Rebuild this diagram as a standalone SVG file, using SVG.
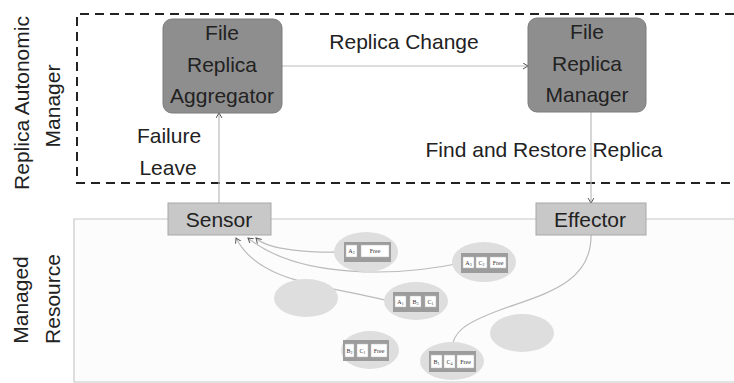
<svg xmlns="http://www.w3.org/2000/svg" width="734" height="383" viewBox="0 0 734 383">
<defs>
<marker id="arr" markerWidth="8" markerHeight="8" refX="5" refY="3" orient="auto" markerUnits="userSpaceOnUse">
<path d="M0,0 L5,3 L0,6" fill="none" stroke="#555" stroke-width="1"/>
</marker>
<style>
text{font-family:"Liberation Sans",Arial,sans-serif;fill:#222}
.lbl{font-size:21px;text-anchor:middle}
.main rect{fill:#8e8e8e;stroke:#7c7c7c;stroke-width:1}
.io rect{fill:#c8c8c8;stroke:#a8a8a8;stroke-width:1}
.conn path{fill:none;stroke:#bbb;stroke-width:1.2;marker-end:url(#arr)}
.ell{fill:#dedede}
.bar{fill:#9c9c9c}
.cell{fill:#fff;stroke:#bbb;stroke-width:0.5}
.ct{font-family:"Liberation Serif","Times New Roman",serif;font-size:6px;text-anchor:middle;fill:#333}
.sub{font-size:4px}
</style>
</defs>
<rect width="734" height="383" fill="#fff"/>

<g id="managed-resource">
<path d="M734,219 H74 V382 H734" fill="#fcfcfc" stroke="#c8c8c8" stroke-width="1.2"/>
</g>
<g id="autonomic-manager">
<path d="M734,14 H77 V183 H734" fill="none" stroke="#222" stroke-width="2" stroke-dasharray="9,6"/>
</g>

<g id="side-labels">
<text class="lbl" transform="translate(29,103) rotate(-90)">Replica Autonomic</text>
<text class="lbl" transform="translate(60,106) rotate(-90)">Manager</text>
<text class="lbl" transform="translate(28,300) rotate(-90)">Managed</text>
<text class="lbl" transform="translate(60,299) rotate(-90)">Resource</text>
</g>

<g id="connectors" class="conn">
<path d="M282,66 H528"/>
<path d="M219,203 V113"/>
<path d="M591,112 V203"/>
<path d="M344,252 C310,253 268,250 256,238"/>
<path d="M461,263 C400,276 300,280 248,238"/>
<path d="M393,302 C330,285 260,285 236,238"/>
<path d="M591,235 C592,285 540,295 500,310 C465,323 452,332 452,350"/>
</g>

<g id="edge-labels">
<text class="lbl" x="404" y="49">Replica Change</text>
<text class="lbl" x="169" y="143">Failure</text>
<text class="lbl" x="168" y="175">Leave</text>
<text class="lbl" x="544" y="157">Find and Restore Replica</text>
</g>

<g id="aggregator" class="main">
<rect x="163" y="19" width="119" height="94" rx="9"/>
<text class="lbl" x="222" y="40">File</text>
<text class="lbl" x="222" y="72">Replica</text>
<text class="lbl" x="222" y="103">Aggregator</text>
</g>

<g id="replica-manager" class="main">
<rect x="528" y="18" width="118" height="94" rx="9"/>
<text class="lbl" x="587" y="39">File</text>
<text class="lbl" x="587" y="71">Replica</text>
<text class="lbl" x="587" y="102">Manager</text>
</g>

<g id="sensor" class="io">
<rect x="168" y="203" width="103" height="32"/>
<text class="lbl" x="219" y="227">Sensor</text>
</g>

<g id="effector" class="io">
<rect x="536" y="203" width="110" height="32"/>
<text class="lbl" x="590" y="227">Effector</text>
</g>

<g id="node-a2">
<ellipse class="ell" cx="366" cy="252" rx="32" ry="20"/>
<rect class="bar" x="344" y="242" width="47" height="20"/>
<rect class="cell" x="346" y="245" width="11" height="12"/>
<rect class="cell" x="361" y="245" width="28" height="12"/>
<text class="ct" x="351.5" y="253">A<tspan class="sub" dy="1">2</tspan></text>
<text class="ct" x="375" y="253">Free</text>
</g>

<g id="node-a3">
<ellipse class="ell" cx="484" cy="262" rx="32" ry="20"/>
<rect class="bar" x="461" y="253" width="47" height="20"/>
<rect class="cell" x="463" y="257" width="11" height="11"/>
<rect class="cell" x="476" y="257" width="11" height="11"/>
<rect class="cell" x="490" y="257" width="16" height="11"/>
<text class="ct" x="468.5" y="264.5">A<tspan class="sub" dy="1">3</tspan></text>
<text class="ct" x="481.5" y="264.5">C<tspan class="sub" dy="1">2</tspan></text>
<text class="ct" x="498" y="264.5">Free</text>
</g>

<g id="node-a1">
<ellipse class="ell" cx="416" cy="301" rx="32" ry="19"/>
<rect class="bar" x="393" y="292" width="46" height="20"/>
<rect class="cell" x="395" y="296" width="11" height="11"/>
<rect class="cell" x="410" y="296" width="11" height="11"/>
<rect class="cell" x="425" y="296" width="11" height="11"/>
<text class="ct" x="400.5" y="303.5">A<tspan class="sub" dy="1">1</tspan></text>
<text class="ct" x="415.5" y="303.5">B<tspan class="sub" dy="1">3</tspan></text>
<text class="ct" x="430.5" y="303.5">C<tspan class="sub" dy="1">1</tspan></text>
</g>

<g id="node-empty-1">
<ellipse class="ell" cx="306" cy="298" rx="32" ry="19"/>
</g>

<g id="node-empty-2">
<ellipse class="ell" cx="522" cy="333" rx="32" ry="19"/>
</g>

<g id="node-b2">
<ellipse class="ell" cx="370" cy="350" rx="29" ry="19"/>
<rect class="bar" x="343" y="340" width="46" height="21"/>
<rect class="cell" x="345" y="344" width="9" height="13"/>
<rect class="cell" x="357" y="344" width="11" height="13"/>
<rect class="cell" x="371" y="344" width="16" height="13"/>
<text class="ct" x="349.5" y="352.5">B<tspan class="sub" dy="1">2</tspan></text>
<text class="ct" x="362.5" y="352.5">C<tspan class="sub" dy="1">1</tspan></text>
<text class="ct" x="379" y="352.5">Free</text>
</g>

<g id="node-b1">
<ellipse class="ell" cx="452" cy="361" rx="32" ry="19"/>
<rect class="bar" x="429" y="351" width="47" height="21"/>
<rect class="cell" x="431" y="355" width="11" height="13"/>
<rect class="cell" x="444" y="355" width="11" height="13"/>
<rect class="cell" x="457" y="355" width="17" height="13"/>
<text class="ct" x="436.5" y="363.5">B<tspan class="sub" dy="1">1</tspan></text>
<text class="ct" x="449.5" y="363.5">C<tspan class="sub" dy="1">4</tspan></text>
<text class="ct" x="465.5" y="363.5">Free</text>
</g>
</svg>
